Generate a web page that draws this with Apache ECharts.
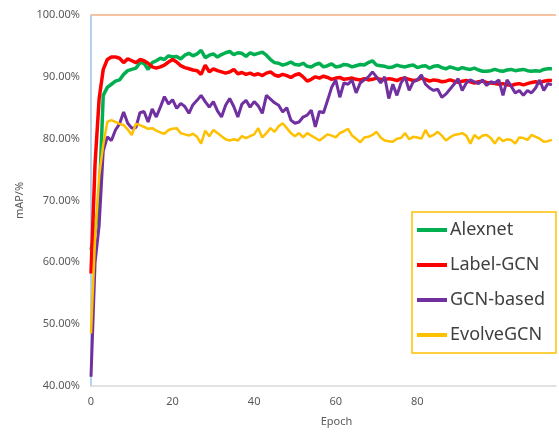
<!DOCTYPE html>
<html>
<head>
<meta charset="utf-8">
<script src="https://cdn.jsdelivr.net/npm/echarts@6/dist/echarts.min.js"></script>
<style>
html,body{margin:0;padding:0;background:#fff}
#echarts{width:559px;height:432px}
</style>
</head>
<body>
<div id="echarts"></div>
<script>
// epoch 0..113
var epochs = []
for (var i = 0; i < 114; i++) epochs.push(i)

var seriesNames = ['Alexnet', 'Label-GCN', 'GCN-based', 'EvolveGCN']
var xTicks = [0, 20, 40, 60, 80]

var alexnet = [62,65,70,87,88.3,88.8,89.3,89.5,90.4,91,91.2,91.4,92.3,92.2,91.2,92.3,92.6,93,92.8,93.4,
  93.2,93.3,92.9,93.5,93.8,93.4,93.7,94.3,93.1,93.5,93.7,93.2,93.6,93.9,94.1,93.6,93.9,93.8,93.3,93.9,
  93.6,93.8,94,93.5,92.8,92.3,92.2,91.9,92.1,92.4,92,91.9,92.2,91.7,91.6,92,92.2,91.6,91.8,92.1,
  91.6,91.7,92,91.9,91.6,91.8,92,91.9,92.3,92.6,91.9,91.8,91.7,91.5,91.6,91.9,91.7,91.6,91.8,91.9,
  91.5,91.7,91.8,91.4,91.7,91.8,91.5,91.3,91.6,91.4,91.2,91.5,91.3,91.2,91.4,91.1,90.9,90.9,91,91.2,
  91,90.9,91.1,91.2,91,91.1,91.2,91,90.9,91,90.9,91.2,91.3,91.3]

var labelGcn = [58.2,76,86.5,91.2,92.8,93.2,93.2,93,92.3,92.9,92.6,92.3,92.8,92.6,92.2,91.6,91.4,91.6,91.9,92.4,
  92.8,92.4,91.8,91.5,91.3,91.1,91,90.4,91.9,90.8,91.3,91,90.8,90.6,90.8,91.2,90.5,90.7,90.4,90.6,
  90.3,90.5,90.2,90.6,90.8,90.3,90.1,90.4,90.2,89.9,90.3,90.5,90,89.3,89.6,90,89.8,90.1,89.9,89.6,
  89.8,89.9,89.6,89.7,89.8,89.6,89.5,89.7,89.5,89.6,89.8,89.6,89.5,89.7,89.6,89.4,89.7,89.8,89.6,89.4,
  89.5,89.8,89.6,89.3,89.5,89.4,89.2,89.3,89.5,89.3,89.1,89.3,89.4,89.2,89,89.2,89.3,89.1,89,88.9,
  88.8,88.9,88.7,88.6,88.8,88.9,88.7,88.9,89.1,89.2,89,89.3,89.4,89.4]

var gcnBased = [41.5,60,66,78,80.3,79.7,81.4,82.4,84.3,82.5,81.7,81.8,84.2,84.4,82.7,84.8,83.5,85.1,86.8,85.6,
  86.3,84.9,85.7,85.2,84.1,85.5,86.2,87,86,85.1,86,84.5,83.5,85.4,86.5,85.2,83.5,85.6,86.2,85.1,
  86,85.3,84.1,87,86.4,85.8,85.4,84.3,85,83,82.5,82.7,83.5,83.8,84.6,81.9,84.4,84.2,86.2,88.3,
  89.5,86.7,89,88.8,89.5,87.4,89,89.5,90,90.8,90,89,90,86.5,88.8,87,89,90,87.8,89.2,
  89.5,90.3,88.8,88.2,87.8,88,86.7,87.2,88,88.8,89.7,87.8,89,89.5,89.2,88.9,89.5,88.6,89.2,89,
  89.5,87,89.5,88.5,87.4,87.8,87,87.8,87.4,88.2,89.5,87.8,88.9,88.7]

var evolveGcn = [48.5,64,74,79,82.7,83,82.7,82.4,82.2,81.5,80.6,82.4,82.2,81.9,81.6,81.7,81.3,81,80.8,81.4,
  81.6,81.7,80.9,80.7,80.5,80.8,80.3,79.2,81.3,80.4,81.4,80.9,80.4,79.9,79.7,79.9,79.7,80.4,80.1,80.4,
  80.7,81.7,80.2,80.9,81.7,81.1,82,82.5,81.7,80.9,80.4,80.9,80.2,80.9,80.5,80.1,79.7,80.2,80.7,80.5,
  80.2,80.9,81.2,81.6,80.5,80,79.4,80.2,80.3,80.6,81.1,80.2,79.7,79.6,79.5,80,80.1,80.9,79.9,80.3,
  80.2,80,81.4,80.3,80.6,81.1,80.5,79.7,80.2,80.6,80.7,80.9,80.5,79.2,80.6,80,80.5,80.6,80.1,79.2,
  80.2,79.6,79.9,79.8,79.2,80.2,80.1,79.8,80.6,80.3,80,79.5,79.6,79.8]

var colors = ['#00b050', '#ff0000', '#7030a0', '#ffc000']
var widths = [3.5, 3.5, 3, 2.5]
var values = [alexnet, labelGcn, gcnBased, evolveGcn]

var chart = echarts.init(document.getElementById('echarts'))

var series = []
seriesNames.forEach(function (name, k) {
  series.push({
    name: name,
    type: 'line',
    showSymbol: false,
    symbol: 'none',
    color: colors[k],
    lineStyle: {width: widths[k], color: colors[k]},
    data: epochs.map(function (e, i) { return [e, values[k][i]] })
  })
})
// orange reference line at 100%
series[0].markLine = {
  silent: true,
  symbol: 'none',
  label: {show: false},
  lineStyle: {color: '#f4b183', width: 1.5, type: 'solid'},
  data: [{yAxis: 100}]
}

var option = {
  animation: false,
  grid: {left: 91, right: 0, top: 15, bottom: 46, containLabel: false},
  legend: {
    data: seriesNames,
    orient: 'vertical',
    left: 412,
    top: 212,
    padding: [8, 11, 8, 5],
    itemGap: 15,
    itemWidth: 30,
    itemHeight: 4,
    icon: 'rect',
    borderColor: '#ffc000',
    borderWidth: 1.5,
    backgroundColor: '#fff',
    textStyle: {fontFamily: 'Noto Sans', fontSize: 18, color: '#404040', lineHeight: 20, padding: [0, 0, 0, -2]}
  },
  xAxis: {
    type: 'value',
    min: 0,
    max: 114,
    interval: 20,
    name: 'Epoch',
    nameLocation: 'middle',
    nameGap: 30,
    nameTextStyle: {fontFamily: 'Noto Sans', fontSize: 11, color: '#595959', padding: [0, 0, 0, 26]},
    axisLine: {lineStyle: {color: '#d9d9d9', width: 1.5}},
    axisTick: {show: false},
    splitLine: {show: false},
    axisLabel: {
      margin: 10,
      fontFamily: 'Noto Sans',
      fontSize: 11,
      color: '#595959',
      formatter: function (v) { return xTicks.indexOf(v) >= 0 ? v : '' }
    }
  },
  yAxis: {
    type: 'value',
    min: 40,
    max: 100,
    interval: 10,
    name: 'mAP/%',
    nameLocation: 'middle',
    nameGap: 66,
    nameTextStyle: {fontFamily: 'Noto Sans', fontSize: 11, color: '#595959'},
    axisLine: {show: true, lineStyle: {color: '#9dc3e6', width: 1.5}},
    axisTick: {show: false},
    splitLine: {show: false},
    axisLabel: {
      margin: 11,
      fontFamily: 'Noto Sans',
      fontSize: 11,
      color: '#595959',
      formatter: function (v) { return v.toFixed(2) + '%' }
    }
  },
  series: series
}
chart.setOption(option)
</script>
</body>
</html>
